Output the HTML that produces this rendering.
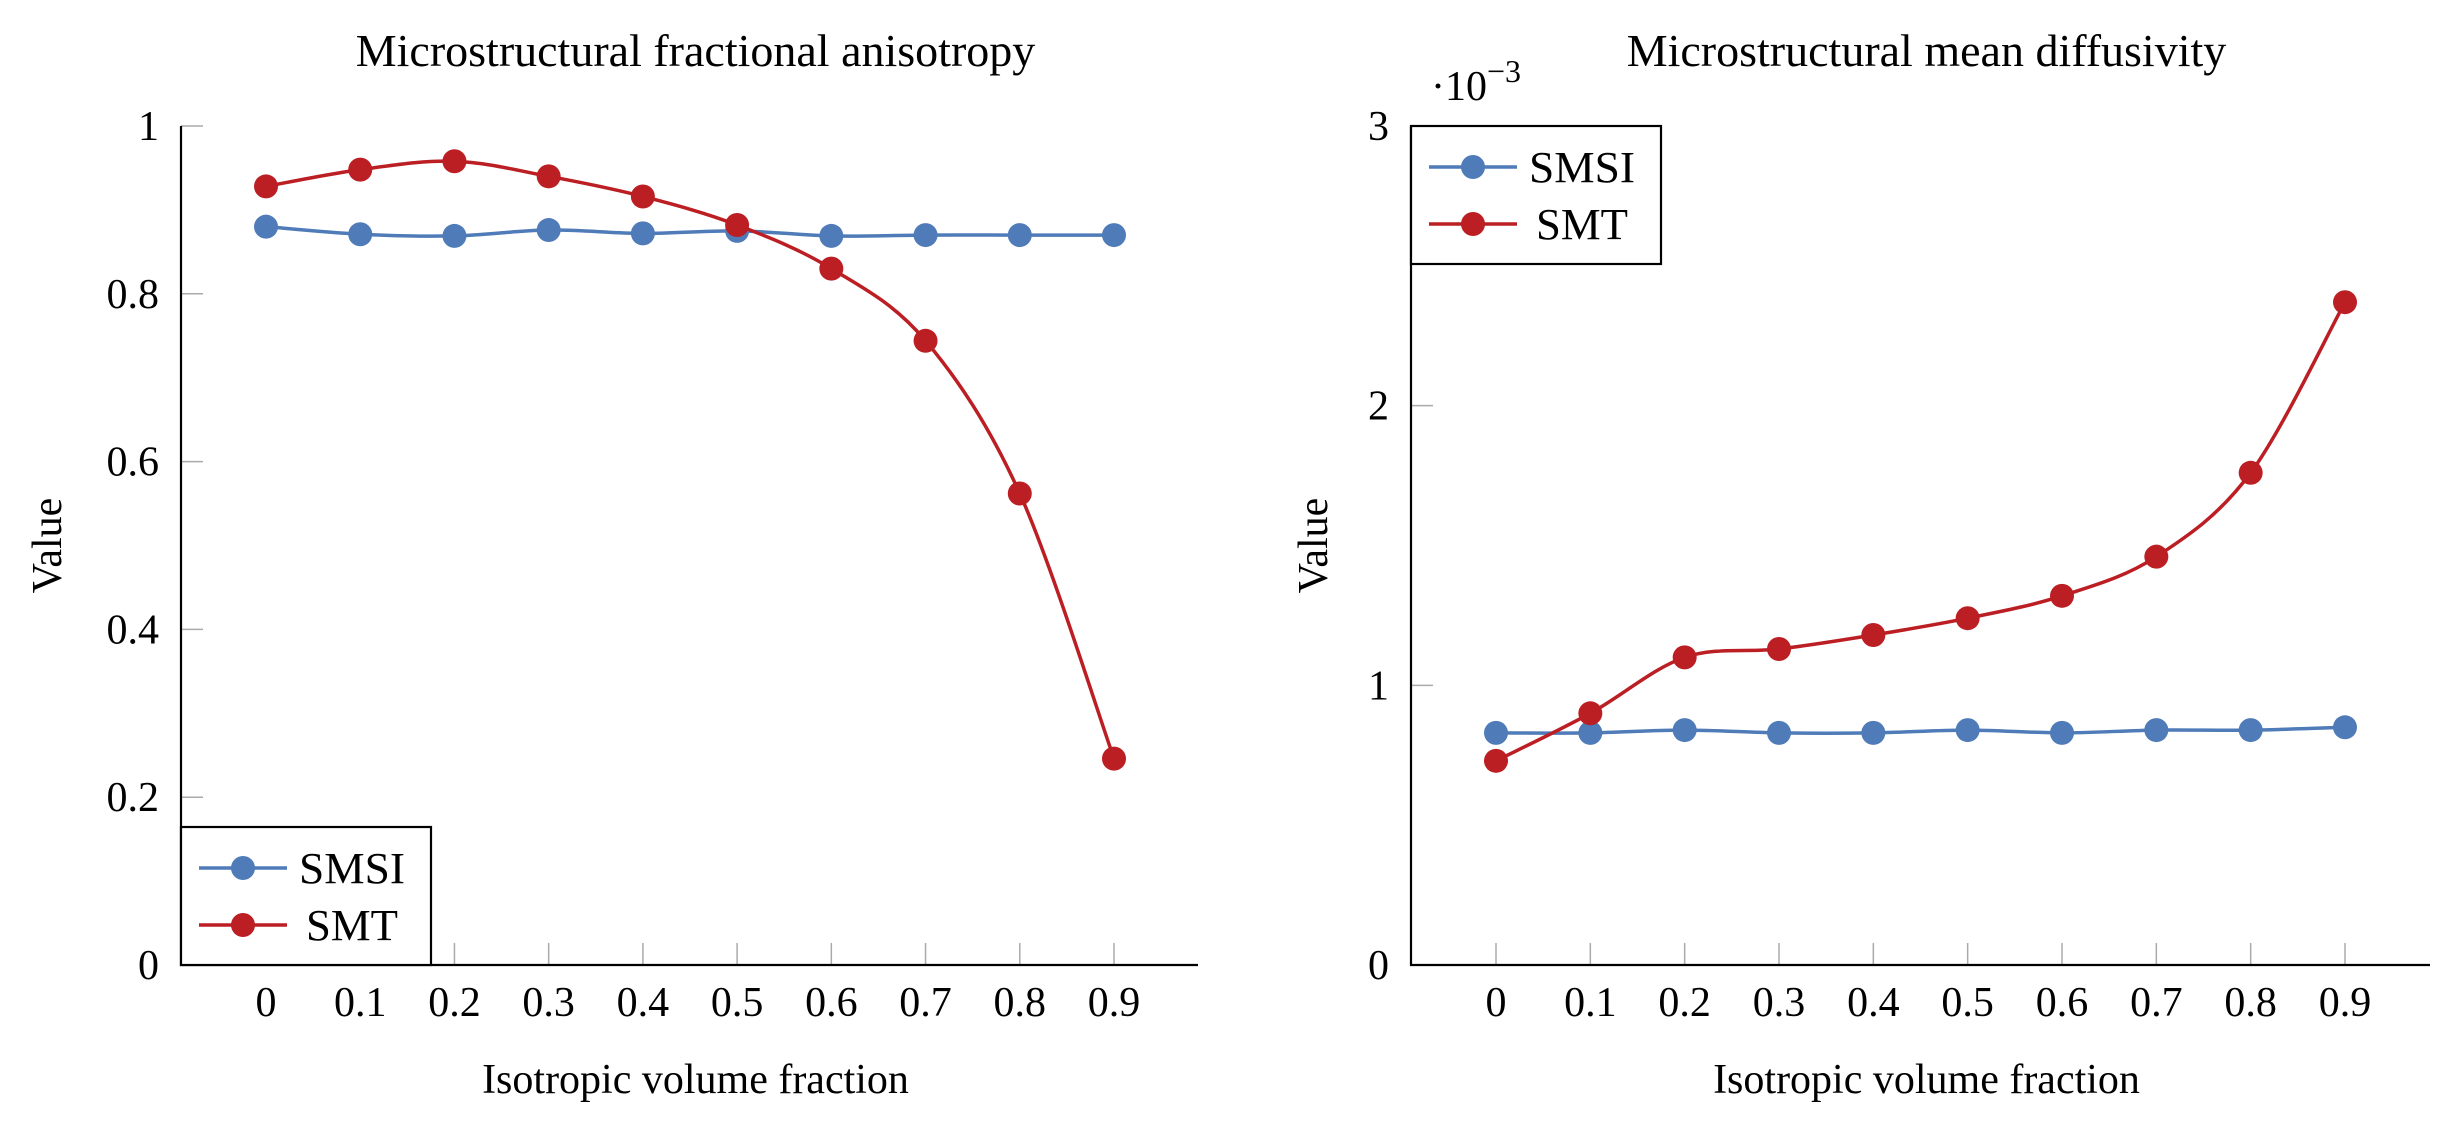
<!DOCTYPE html>
<html><head><meta charset="utf-8"><style>
html,body{margin:0;padding:0;background:#fff;}
svg{display:block;font-family:"Liberation Serif",serif;}
</style></head><body>
<svg id="svg" width="2459" height="1138" viewBox="0 0 2459 1138" xmlns="http://www.w3.org/2000/svg"></svg>
<script>
const categories = [0,0.1,0.2,0.3,0.4,0.5,0.6,0.7,0.8,0.9];
const xTickLabels = ["0","0.1","0.2","0.3","0.4","0.5","0.6","0.7","0.8","0.9"];
const faSMSI = [0.880,0.871,0.869,0.876,0.872,0.875,0.869,0.870,0.870,0.870];
const faSMT = [0.928,0.948,0.958,0.940,0.916,0.882,0.830,0.744,0.562,0.246];
const faYTicks = [0,0.2,0.4,0.6,0.8,1];
const faYTickLabels = ["0","0.2","0.4","0.6","0.8","1"];
const mdSMSI = [0.83,0.83,0.84,0.83,0.83,0.84,0.83,0.84,0.84,0.85];
const mdSMT = [0.73,0.90,1.10,1.13,1.18,1.24,1.32,1.46,1.76,2.37];
const mdYTicks = [0,1,2,3];
const mdYTickLabels = ["0","1","2","3"];

const NS="http://www.w3.org/2000/svg";
const svg=document.getElementById('svg');
const BLUE="#4f7bb8", RED="#bb1e23";
function mk(tag,attrs,parent){const e=document.createElementNS(NS,tag);for(const k in attrs)e.setAttribute(k,attrs[k]);(parent||svg).appendChild(e);return e;}

function smoothPath(pts){
  let d="M"+pts[0][0]+","+pts[0][1];
  for(let i=0;i<pts.length-1;i++){
    const p0=pts[Math.max(0,i-1)],p1=pts[i],p2=pts[i+1],p3=pts[Math.min(pts.length-1,i+2)];
    const c1=[p1[0]+(p2[0]-p0[0])/6,p1[1]+(p2[1]-p0[1])/6];
    const c2=[p2[0]-(p3[0]-p1[0])/6,p2[1]-(p3[1]-p1[1])/6];
    d+=" C"+c1[0]+","+c1[1]+" "+c2[0]+","+c2[1]+" "+p2[0]+","+p2[1];
  }
  return d;
}

function chart(o){
  const g=mk('g',{});
  
  
  const L=o.left,R=o.right,T=126,B=965;
  const x0=o.x0,x9=o.x9;
  const xs=v=>x0+(v-categories[0])/(categories[9]-categories[0])*(x9-x0);
  const ys=v=>B-(v-o.ymin)/(o.ymax-o.ymin)*(B-T);
  o.yTicks.forEach((v,i)=>{
    const y=ys(v);
    const tk=mk('line',{x1:L,x2:L+22,y1:y,y2:y,stroke:"#aaa","stroke-width":1.5},g);
    
    
    const tl=mk('text',{x:L-22,y:y+14,"text-anchor":"end","font-size":42},g);
    
    
    tl.textContent=o.yTickLabels[i];
  });
  categories.forEach((c,i)=>{
    const x=xs(c);
    const tk=mk('line',{x1:x,x2:x,y1:B,y2:B-22,stroke:"#aaa","stroke-width":1.5},g);
    
    
    const tl=mk('text',{x:x,y:B+51,"text-anchor":"middle","font-size":42},g);
    
    
    tl.textContent=xTickLabels[i];
  });
  const ax=mk('path',{d:`M${L},${T} L${L},${B} L${R},${B}`,fill:"none",stroke:"#000","stroke-width":2.2},g);
  
  
  [[o.s1,BLUE,'smsi'],[o.s2,RED,'smt']].forEach(([arr,col,nm])=>{
    const pts=arr.map((v,i)=>[xs(categories[i]),ys(v)]);
    const p=mk('path',{d:smoothPath(pts),fill:"none",stroke:col,"stroke-width":3.5},g);
    
    
    pts.forEach(q=>{
      const c=mk('circle',{cx:q[0],cy:q[1],r:12,fill:col},g);
      
      
    });
  });
  const lg=mk('g',{},g);
  
  
  mk('rect',{x:L,y:o.legY,width:250,height:138,fill:"#fff",stroke:"#000","stroke-width":2.2},lg);
  [["SMSI",BLUE,41,118],["SMT",RED,98,125]].forEach(([t,col,dy,tx0])=>{
    const yy=o.legY+dy;
    const e=mk('g',{},lg);
    
    
    mk('line',{x1:L+18,x2:L+106,y1:yy,y2:yy,stroke:col,"stroke-width":3.5},e);
    mk('circle',{cx:L+62,cy:yy,r:12,fill:col},e);
    const tx=mk('text',{x:L+tx0,y:yy+15,"font-size":44,textLength:t==="SMSI"?106:92,lengthAdjust:"spacingAndGlyphs"},e);
    tx.textContent=t;
  });
  const ti=mk('text',{x:(L+R)/2+6,y:66,"text-anchor":"middle","font-size":46},g);
  
  
  ti.textContent=o.title;
  const xl=mk('text',{x:(L+R)/2+6,y:1093,"text-anchor":"middle","font-size":42},g);
  
  
  xl.textContent="Isotropic volume fraction";
  const yl=mk('text',{x:0,y:0,"text-anchor":"middle","font-size":42,transform:`translate(${o.ylx},${(T+B)/2}) rotate(-90)`},g);
  
  
  yl.textContent="Value";
  return g;
}
chart({name:'fa-chart',left:181,right:1198,x0:266,x9:1114,ymin:0,ymax:1,yTicks:faYTicks,yTickLabels:faYTickLabels,s1:faSMSI,s2:faSMT,legY:827,title:"Microstructural fractional anisotropy",ylx:61});
chart({name:'md-chart',left:1411,right:2430,x0:1496,x9:2345,ymin:0,ymax:3,yTicks:mdYTicks,yTickLabels:mdYTickLabels,s1:mdSMSI,s2:mdSMT,legY:126,title:"Microstructural mean diffusivity",ylx:1327});
const sc=mk('text',{x:1431,y:100,"font-size":42});


sc.innerHTML='·10<tspan dy="-18" font-size="32">−3</tspan>';
</script>
</body></html>
